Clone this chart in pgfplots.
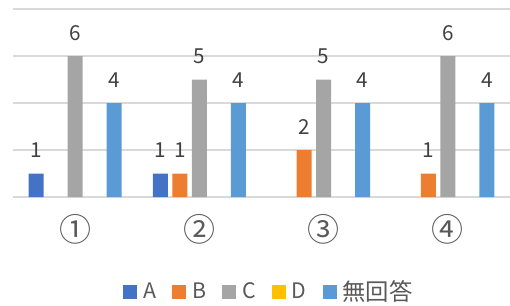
\documentclass[border=0pt]{standalone}
\usepackage{pgfplots}
\pgfplotsset{compat=1.18}
\usepackage{fontspec}
\setmainfont{Noto Sans CJK JP}
\definecolor{cA}{HTML}{4472C4}
\definecolor{cB}{HTML}{ED7D31}
\definecolor{cC}{HTML}{A5A5A5}
\definecolor{cD}{HTML}{FFC000}
\definecolor{cE}{HTML}{5B9BD5}
\definecolor{gridc}{HTML}{D9D9D9}
\definecolor{lab}{HTML}{404040}
\definecolor{tick}{HTML}{595959}
\pgfplotsset{sq/.style={legend image code/.code={\fill[##1] (0pt,-5.25pt) rectangle (10.5pt,5.25pt);}}}
\begin{document}
\begin{tikzpicture}
\path[use as bounding box] (0,0) rectangle (382.5pt,228.75pt);
\begin{axis}[
  at={(9.75pt,81pt)}, anchor=south west,
  scale only axis, width=372.75pt, height=141pt,
  xmin=-0.5, xmax=3.5, ymin=0, ymax=8,
  ybar, bar width=11.25pt,
  axis line style={draw=none},
  ytick={0,2,4,6,8}, yticklabels={},
  xtick={0,1,2,3}, xticklabels={①,②,③,④},
  major tick length=0pt,
  tick style={draw=none},
  ymajorgrids, grid style={gridc, line width=1.1pt},
  xticklabel style={font=\fontsize{24}{26}\selectfont, text=tick, anchor=center, inner sep=0pt, yshift=-24pt},
  /pgf/number format/assume math mode=true,
  nodes near coords,
  every node near coord/.append style={font=\fontsize{15.5}{17}\selectfont, text=lab, anchor=south, inner sep=0pt, yshift=11.5pt},
  legend columns=5,
  legend style={at={(0.513,-0.505)}, anchor=center, draw=none, fill=none,
    font=\fontsize{16}{18}\selectfont, text=tick,
    nodes={inner sep=0pt},
    /tikz/every odd column/.append style={column sep=4.5pt},
    /tikz/every even column/.append style={column sep=12pt},
    legend cell align=left},
]
\addplot[bar shift=-29.25pt, fill=cA, draw=none, sq] coordinates {(0,1) (1,1)};
\addlegendentry{A}
\addplot[bar shift=-14.625pt, fill=cB, draw=none, sq] coordinates {(1,1) (2,2) (3,1)};
\addlegendentry{B}
\addplot[bar shift=0pt, fill=cC, draw=none, sq] coordinates {(0,6) (1,5) (2,5) (3,6)};
\addlegendentry{C}
\addlegendimage{fill=cD, draw=none, sq}
\addlegendentry{D}
\addplot[bar shift=29.25pt, fill=cE, draw=none, sq] coordinates {(0,4) (1,4) (2,4) (3,4)};
\addlegendentry{{\fontsize{17.5}{19}\selectfont 無回答}}
\end{axis}
\end{tikzpicture}
\end{document}
